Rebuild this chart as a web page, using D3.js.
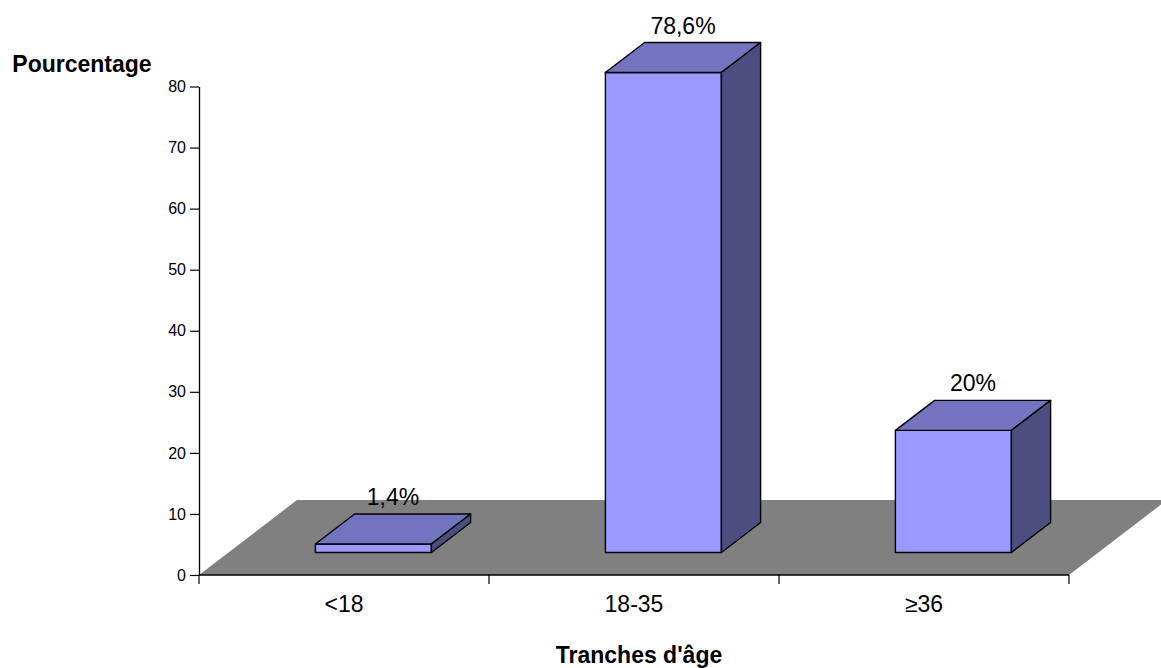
<!DOCTYPE html>
<html>
<head>
<meta charset="utf-8">
<script src="https://cdn.jsdelivr.net/npm/d3@7/dist/d3.min.js"></script>
<style>
  html, body { margin: 0; padding: 0; background: #fff; }
  svg { display: block; font-family: "Liberation Sans", Arial, sans-serif; }
</style>
</head>
<body>
<svg id="chart" width="1161" height="668"></svg>
<script>
// Age groups and share of respondents (%)
const categories = ["<18", "18-35", "\u226536"];
const values = [1.4, 78.6, 20];
const valueLabels = ["1,4%", "78,6%", "20%"];
const yTicks = [0, 10, 20, 30, 40, 50, 60, 70, 80];
const yTitle = "Pourcentage";
const xTitle = "Tranches d'\u00e2ge";

const svg = d3.select("#chart");

// Plot frame (front edge of the floor) and 3D depth vector
const plotLeft = 199, plotRight = 1069, plotBase = 575, plotTop = 86.5;
const DX = 98, DY = -75;          // full floor depth offset
const tFront = 0.3, tBack = 0.7;  // bar depth inside the floor

const x = d3.scaleBand().domain(categories).range([plotLeft, plotRight])
  .paddingInner(0.6).paddingOuter(0.3);
const xAxisScale = d3.scaleBand().domain(categories).range([plotLeft, plotRight]);
const y = d3.scaleLinear().domain([0, 80]).range([plotBase, plotTop]);

const P = (px, v, t) => [px + DX * t, y(v) + DY * t];
const poly = pts => "M" + pts.map(p => p.join(",")).join("L") + "Z";

// Floor
svg.append("path")
  .attr("d", poly([P(plotLeft, 0, 0), P(plotRight, 0, 0), P(plotRight, 0, 1), P(plotLeft, 0, 1)]))
  .attr("fill", "#808080");

// Bars
const data = categories.map((c, i) => ({ c, v: values[i], label: valueLabels[i] }));
const bars = svg.append("g").selectAll("g").data(data).join("g")
  .attr("stroke", "#000").attr("stroke-width", 1.4).attr("stroke-linejoin", "round");

bars.append("path") // front face
  .attr("d", d => {
    const x0 = x(d.c), x1 = x0 + x.bandwidth();
    return poly([P(x0, 0, tFront), P(x1, 0, tFront), P(x1, d.v, tFront), P(x0, d.v, tFront)]);
  })
  .attr("fill", "#9999FF");

bars.append("path") // top face
  .attr("d", d => {
    const x0 = x(d.c), x1 = x0 + x.bandwidth();
    return poly([P(x0, d.v, tFront), P(x1, d.v, tFront), P(x1, d.v, tBack), P(x0, d.v, tBack)]);
  })
  .attr("fill", "#7373BF");

bars.append("path") // right side face
  .attr("d", d => {
    const x1 = x(d.c) + x.bandwidth();
    return poly([P(x1, 0, tFront), P(x1, d.v, tFront), P(x1, d.v, tBack), P(x1, 0, tBack)]);
  })
  .attr("fill", "#4D4D80");

// Value labels above each bar
svg.append("g").selectAll("text").data(data).join("text")
  .attr("x", d => x(d.c) + x.bandwidth() / 2 + DX * (tFront + tBack) / 2)
  .attr("y", d => P(0, d.v, tBack)[1] - 9)
  .attr("text-anchor", "middle")
  .attr("font-size", 23)
  .attr("fill", "#000")
  .text(d => d.label);

// Y axis
const yAxis = svg.append("g").attr("transform", `translate(${plotLeft},0)`)
  .call(d3.axisLeft(y).tickValues(yTicks).tickSize(9).tickPadding(4).tickSizeOuter(0));
yAxis.select(".domain").attr("stroke", "#000").attr("stroke-width", 1.3);
yAxis.selectAll(".tick line").attr("stroke", "#000").attr("stroke-width", 1.2);
yAxis.selectAll(".tick text").attr("font-size", 16).attr("fill", "#000")
  .attr("font-family", "Liberation Sans, Arial, sans-serif");

// X axis (front edge of floor) with boundary ticks
const boundaries = [plotLeft].concat(categories.map(c => xAxisScale(c) + xAxisScale.bandwidth()));
const xg = svg.append("g");
xg.append("line").attr("x1", plotLeft).attr("x2", plotRight).attr("y1", plotBase).attr("y2", plotBase)
  .attr("stroke", "#000").attr("stroke-width", 1.3);
xg.selectAll("line.tk").data(boundaries).join("line").attr("class", "tk")
  .attr("x1", d => d).attr("x2", d => d).attr("y1", plotBase).attr("y2", plotBase + 9)
  .attr("stroke", "#000").attr("stroke-width", 1.2);
xg.selectAll("text").data(categories).join("text")
  .attr("x", d => xAxisScale(d) + xAxisScale.bandwidth() / 2)
  .attr("y", 612)
  .attr("text-anchor", "middle")
  .attr("font-size", 23)
  .attr("fill", "#000")
  .text(d => d);

// Axis titles
svg.append("text").attr("x", 82).attr("y", 72).attr("text-anchor", "middle")
  .attr("font-size", 23).attr("font-weight", "bold").text(yTitle);
svg.append("text").attr("x", 639).attr("y", 663).attr("text-anchor", "middle")
  .attr("font-size", 23).attr("font-weight", "bold").text(xTitle);
</script>
</body>
</html>
